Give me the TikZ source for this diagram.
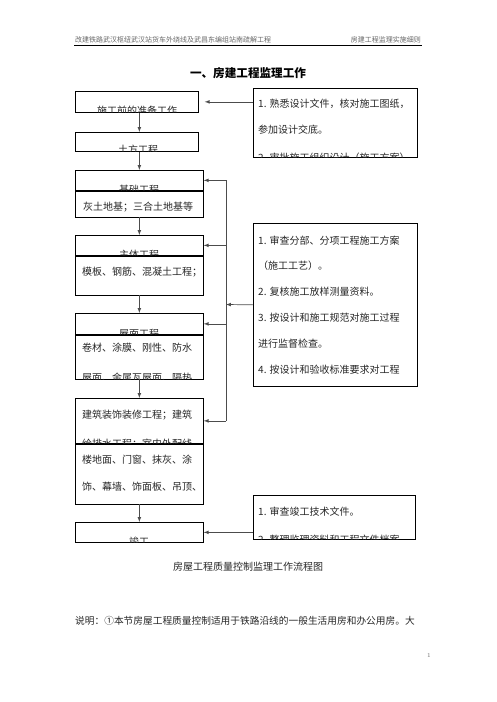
\documentclass[tikz,border=0pt]{standalone}
\usepackage{fontspec}
\newfontfamily\cjk{Noto Sans CJK SC}
\usetikzlibrary{positioning, arrows}
\tikzset{
x=1pt, y=-1pt, % one unit is one pixel of the page, y runs down
>=latex, % small filled arrow heads
box/.style={draw, line width=0.7pt, anchor=north west, inner sep=0pt, minimum width=128pt}, % frame of a step
note/.style={box, minimum width=164pt}, % frame of a note on the right
txt/.style={font=\cjk\fontsize{10}{12}\selectfont, inner sep=0pt, text=black!85}, % text in the frames
link/.style={->, line width=0.7pt, draw=black!70}, % connectors
}

\begin{document}
\begin{tikzpicture}
\useasboundingbox (0,0) rectangle (496,702);

% page head
\node[txt, anchor=west, font=\cjk\fontsize{7}{8}\selectfont, text=black!60] (runl) at (75,40) {改建铁路武汉枢纽武汉站货车外绕线及武昌东编组站南疏解工程};
\node[txt, anchor=east, font=\cjk\fontsize{7}{8}\selectfont, text=black!60] (runr) at (421,40) {房建工程监理实施细则};
\draw[line width=0.6pt] (74,45) -- (422,45);
\node[txt, font=\cjk\bfseries\fontsize{11.6}{14}\selectfont, text=black] (title) at (248,73) {一、房建工程监理工作};

% steps
\node[box, minimum width=123pt, minimum height=21pt] (prep) at (75,91) {};
\node[box, minimum width=123pt, minimum height=19pt] (earth) at (75,132) {};
\node[box, minimum height=20pt] (foundh) at (75,170) {};
\node[box, below=0pt of foundh, minimum height=26pt] (foundb) {};
\node[box, minimum height=20pt] (mainh) at (75,235) {};
\node[box, below=0pt of mainh, minimum height=39pt] (mainb) {};
\node[box, minimum height=21pt] (roofh) at (75,313) {};
\node[box, below=0pt of roofh, minimum height=44pt] (roofb) {};
\node[box, minimum height=45pt] (decoh) at (75,398) {};
\node[box, below=0pt of decoh, minimum height=60pt] (decob) {};
\node[box, minimum height=20pt] (done) at (75,522) {};

% notes
\node[note, minimum height=69pt] (rev1) at (253,88) {};
\node[note, minimum height=163pt] (rev2) at (253,223) {};
\node[note, minimum width=162pt, minimum height=44pt] (rev3) at (253,495) {};

% texts, cut by their frames
\begin{scope}
\clip (prep.north west) rectangle (prep.south east);
\node[txt] (prept) at (137,111) {施工前的准备工作};
\end{scope}
\begin{scope}
\clip (earth.north west) rectangle (earth.south east);
\node[txt] (eartht) at (138,150) {土方工程};
\end{scope}
\begin{scope}
\clip (foundh.north west) rectangle (foundh.south east);
\node[txt] (foundt) at (139,190) {基础工程};
\end{scope}
\node[txt, anchor=west] (foundl) at (83,207) {灰土地基；三合土地基等};
\begin{scope}
\clip (mainh.north west) rectangle (mainh.south east);
\node[txt] (maint) at (139,255) {主体工程};
\end{scope}
\node[txt, anchor=west] (mainl) at (82,272) {模板、钢筋、混凝土工程；};
\begin{scope}
\clip (roofh.north west) rectangle (roofh.south east);
\node[txt] (rooft) at (139,334) {屋面工程};
\end{scope}
\begin{scope}
\clip (roofb.north west) rectangle (roofb.south east);
\node[txt, anchor=west] (roofl1) at (82,348) {卷材、涂膜、刚性、防水};
\node[txt, anchor=west] (roofl2) at (82,378) {屋面、金属瓦屋面、隔热};
\end{scope}
\begin{scope}
\clip (decoh.north west) rectangle (decoh.south east);
\node[txt, anchor=west] (decot1) at (82,415) {建筑装饰装修工程；建筑};
\node[txt, anchor=west] (decot2) at (82,444) {给排水工程；室内外配线};
\end{scope}
\node[txt, anchor=west] (decol1) at (82,460) {楼地面、门窗、抹灰、涂};
\node[txt, anchor=west] (decol2) at (82,487) {饰、幕墙、饰面板、吊顶、};
\begin{scope}
\clip (done.north west) rectangle (done.south east);
\node[txt] (donet) at (139,542) {竣工};
\end{scope}

\begin{scope}
\clip (rev1.north west) rectangle (rev1.south east);
\node[txt, anchor=west] (rev1l1) at (258,104) {1. 熟悉设计文件，核对施工图纸，};
\node[txt, anchor=west] (rev1l2) at (258,130) {参加设计交底。};
\node[txt, anchor=west] (rev1l3) at (258,158) {2. 审批施工组织设计（施工方案）};
\end{scope}
\node[txt, anchor=west] (rev2l1) at (258,241) {1. 审查分部、分项工程施工方案};
\node[txt, anchor=west] (rev2l2) at (258,266) {（施工工艺）。};
\node[txt, anchor=west] (rev2l3) at (258,292) {2. 复核施工放样测量资料。};
\node[txt, anchor=west] (rev2l4) at (258,318) {3. 按设计和施工规范对施工过程};
\node[txt, anchor=west] (rev2l5) at (258,344) {进行监督检查。};
\node[txt, anchor=west] (rev2l6) at (258,370) {4. 按设计和验收标准要求对工程};
\begin{scope}
\clip (rev3.north west) rectangle (rev3.south east);
\node[txt, anchor=west] (rev3l1) at (258,512) {1. 审查竣工技术文件。};
\node[txt, anchor=west] (rev3l2) at (258,540) {2. 整理监理资料和工程文件档案};
\end{scope}

% flow down the steps
\draw[link] (prep.south -| foundh.north) -- (earth.north -| foundh.north);
\draw[link] (earth.south -| foundh.north) -- (foundh.north);
\draw[link] (foundb.south) -- (mainh.north);
\draw[link] (mainb.south) -- (roofh.north);
\draw[link] (roofb.south) -- (decoh.north);
\draw[link] (decob.south) -- (done.north);

% notes to steps
\coordinate (hub) at (226,304.5);
\draw[link, shorten >=6pt] (rev1.west |- prep.east) -- (prep.east);
\draw[link] (rev2.west) -- (hub);
\draw[line width=0.7pt, draw=black!70] (hub |- foundh.east) -- (hub |- decoh.east);
\foreach \b in {foundh, mainh, roofh, decoh}
  \draw[link] (hub |- \b.east) -- (\b.east);
\draw[link] (rev3.west |- done.east) -- (done.east);

% caption and text below
\node[txt] (cap) at (248,567) {房屋工程质量控制监理工作流程图};
\node[txt, anchor=west, font=\cjk\fontsize{9.7}{12}\selectfont] (expl) at (75,621) {说明：①本节房屋工程质量控制适用于铁路沿线的一般生活用房和办公用房。大};
\node[font=\fontsize{6}{7}\selectfont, text=black!60, inner sep=0pt] (pageno) at (429,655) {1};
\end{tikzpicture}
\end{document}
